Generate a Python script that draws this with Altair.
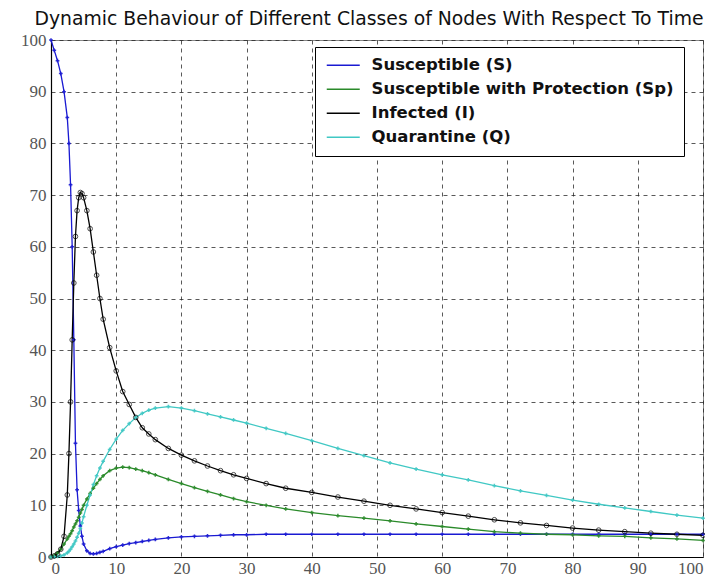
import altair as alt
import pandas as pd

t = [0, 0.5, 1, 1.5, 2, 2.5, 2.75, 3, 3.25, 3.5, 3.75, 4, 4.25, 4.5, 4.75, 5, 5.5, 6, 6.5, 7, 7.5, 8, 9, 10,
     11, 12, 13, 14, 15, 16, 18, 20, 22, 24, 26, 28, 30, 33, 36, 40, 44, 48, 52, 56, 60, 64, 68, 72, 76, 80,
     84, 88, 92, 96, 100]

S = [100, 98, 96, 93.5, 90, 85, 80, 72, 60, 42, 22, 13, 9, 6, 4, 2.5, 1.2, 0.7, 0.6, 0.7, 0.9, 1.1, 1.6, 2.0,
     2.3, 2.6, 2.8, 3.0, 3.2, 3.4, 3.7, 3.9, 4.0, 4.1, 4.2, 4.3, 4.3, 4.4, 4.4, 4.4, 4.4, 4.4, 4.4, 4.4, 4.4, 4.4,
     4.4, 4.4, 4.4, 4.4, 4.4, 4.4, 4.4, 4.4, 4.4]

Sp = [0, 0.3, 0.8, 1.5, 2.5, 3.5, 4.0, 4.5, 5.1, 5.8, 6.4, 7, 7.7, 8.5, 9.2, 10, 11.2, 12.3, 13.3, 14.2, 15, 15.7, 16.7, 17.2,
      17.4, 17.3, 17.0, 16.7, 16.3, 15.9, 15.0, 14.2, 13.4, 12.7, 12.0, 11.3, 10.7, 10.0, 9.3, 8.6, 8.0, 7.5, 7.0, 6.4,
      5.9, 5.4, 4.9, 4.6, 4.4, 4.3, 4.1, 4.0, 3.7, 3.5, 3.2]

I = [0, 0.2, 0.6, 1.5, 4, 12, 20, 30, 42, 53, 62, 67, 69.5, 70.5, 70.3, 69.5, 67, 63.5, 59, 54.5, 50, 46, 40.5, 36,
     32, 29.5, 27, 25, 23.8, 22.7, 21, 19.7, 18.6, 17.6, 16.7, 15.9, 15.2, 14.2, 13.3, 12.5, 11.6, 10.8, 10, 9.3,
     8.6, 7.9, 7.2, 6.6, 6.1, 5.6, 5.2, 4.9, 4.6, 4.4, 4.2]

Q = [0, 0, 0.1, 0.2, 0.4, 0.8, 1.1, 1.5, 2.0, 2.5, 3.1, 3.8, 4.6, 5.5, 6.6, 7.8, 10, 12, 14, 15.7, 17.2, 18.5, 20.8, 22.8,
     24.5, 25.8, 27, 27.8, 28.4, 28.8, 29.1, 28.8, 28.3, 27.7, 27.1, 26.5, 25.9, 24.9, 23.9, 22.5, 21.0, 19.6, 18.2, 17,
     15.9, 14.9, 13.8, 12.8, 11.9, 11.0, 10.2, 9.5, 8.8, 8.1, 7.5]

names = ["Susceptible (S)", "Susceptible with Protection (Sp)", "Infected (I)", "Quarantine (Q)"]
colors = ["#1a1ad2", "#2a8a2a", "#000000", "#40c8c4"]
ticks = [0, 10, 20, 30, 40, 50, 60, 70, 80, 90, 100]

rows = []
for name, vals in zip(names, [S, Sp, I, Q]):
    for i, (tt, v) in enumerate(zip(t, vals)):
        rows.append({"t": tt, "v": v, "series": name, "order": i})
df = pd.DataFrame(rows)

xs = alt.X("t:Q", scale=alt.Scale(domain=[0, 100], nice=False),
           axis=alt.Axis(values=ticks, title=None, grid=True, ticks=False, labelPadding=3))
ys = alt.Y("v:Q", scale=alt.Scale(domain=[0, 100], nice=False),
           axis=alt.Axis(values=ticks, title=None, grid=True, ticks=False, labelPadding=5))
col = alt.Color("series:N", scale=alt.Scale(domain=names, range=colors),
                legend=alt.Legend(title=None, orient="none", legendX=264, legendY=7,
                                  symbolType="M-3,0H3", symbolSize=121, symbolStrokeWidth=1.6,
                                  symbolOffset=10,
                                  labelFont="DejaVu Sans", labelFontWeight="bold", labelFontSize=16.5,
                                  labelColor="#111", fillColor="white", strokeColor="#000",
                                  padding=10, rowPadding=7, labelOffset=20, labelLimit=400))

base = alt.Chart(df)
lines = base.mark_line(strokeWidth=1.3).encode(x=xs, y=ys, color=col, order="order:Q")

pts_plus = base.transform_filter(alt.datum.series != "Infected (I)").mark_point(
    shape="cross", filled=True, size=14, opacity=0.9).encode(
    x=xs, y=ys, color=alt.Color("series:N", scale=alt.Scale(domain=names, range=colors), legend=None))
pts_circ = base.transform_filter(alt.datum.series == "Infected (I)").mark_point(
    shape="circle", filled=False, size=22, strokeWidth=1, color="#000").encode(x=xs, y=ys)

chart = alt.layer(lines, pts_plus, pts_circ).properties(
    width=652, height=517,
    autosize=alt.AutoSizeParams(type="none"),
    title=alt.Title("Dynamic Behaviour of Different Classes of Nodes With Respect To Time",
                    font="DejaVu Sans", fontSize=18.8, fontWeight="normal", color="#111",
                    offset=2, dx=-8),
    padding={"left": 43, "top": 32, "right": 2, "bottom": 24},
).configure_view(stroke="#888", strokeWidth=1).configure_axis(
    labelFont="Liberation Sans Narrow", labelFontSize=17, labelColor="#555",
    domainColor="#000", domainWidth=1.2, gridColor="#222", gridDash=[4, 4], gridOpacity=0.75,
    gridWidth=1
)

chart.save("out.html", embed_options={"renderer": "svg", "actions": False})
